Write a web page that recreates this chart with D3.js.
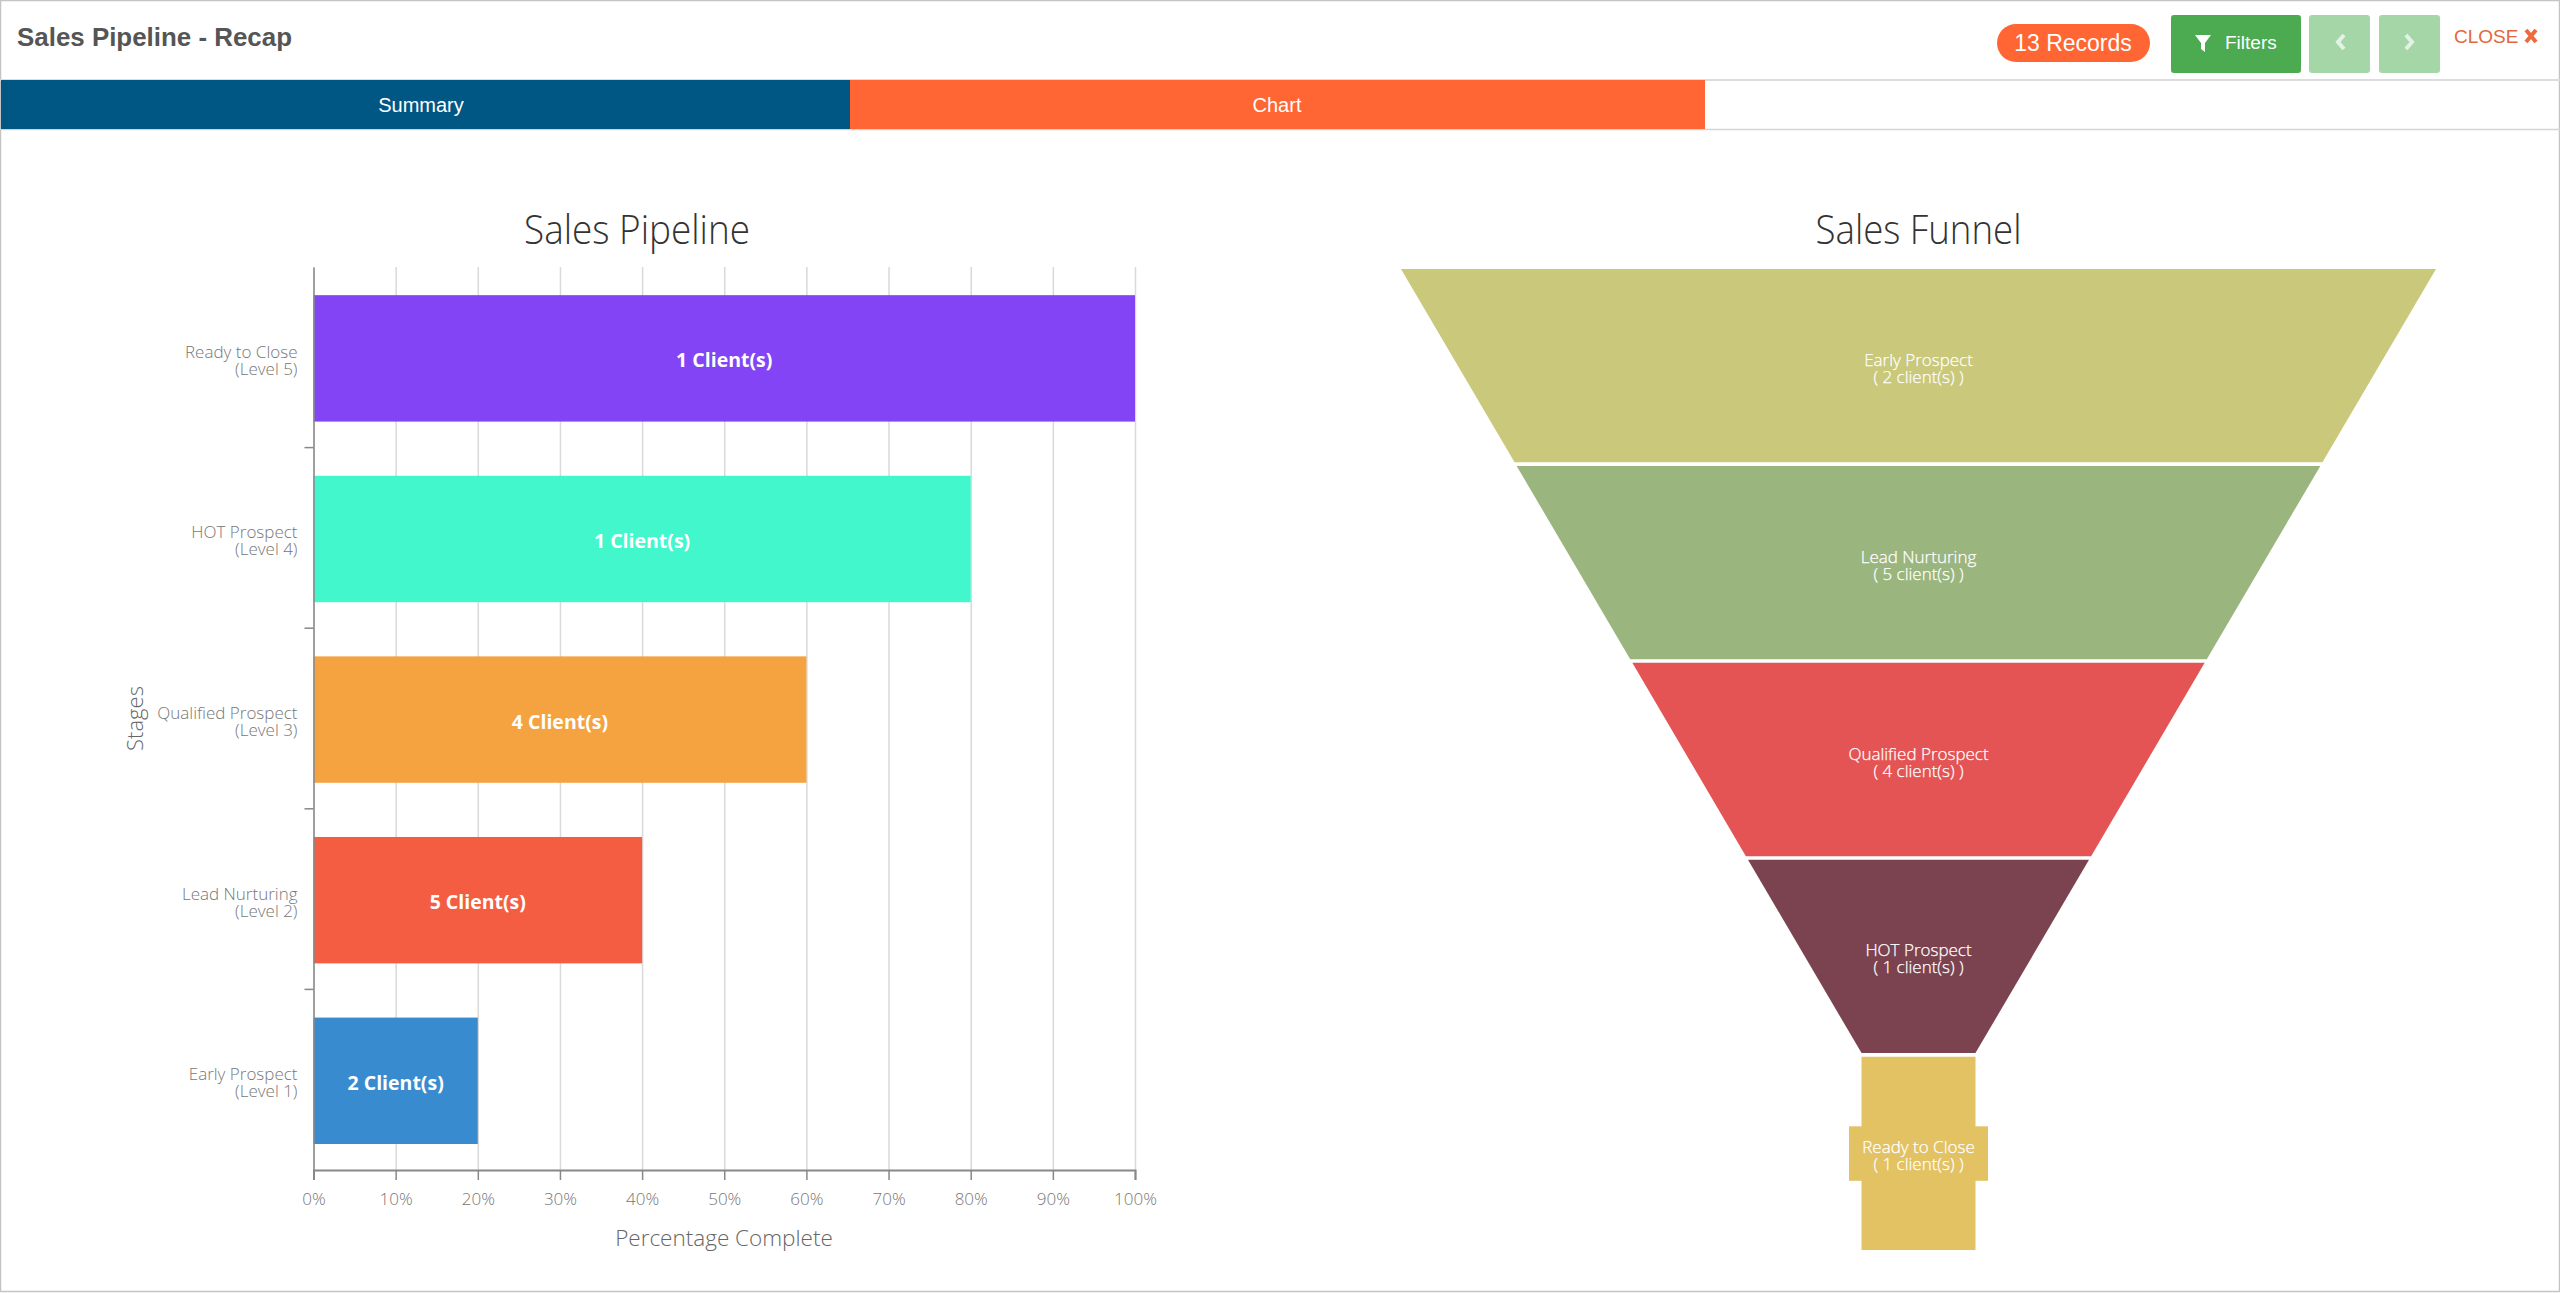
<!DOCTYPE html>
<html>
<head>
<meta charset="utf-8">
<title>Sales Pipeline - Recap</title>
<script src="https://cdn.jsdelivr.net/npm/d3@7"></script>
<style>
  html, body { margin: 0; padding: 0; background: #fff; }
  svg { display: block; }
  .ui { font-family: "Liberation Sans", Arial, sans-serif; }
  .chart-text { font-family: "Open Sans", "Noto Sans", sans-serif; }
  .grid line { stroke: #d9d9d9; stroke-width: 1.5; }
  .grid path { display: none; }
</style>
</head>
<body>
<div id="page"></div>
<script>
// chart data
var stages = ["Early Prospect", "Lead Nurturing", "Qualified Prospect", "HOT Prospect", "Ready to Close"];
var levels = ["(Level 1)", "(Level 2)", "(Level 3)", "(Level 4)", "(Level 5)"];
var percents = [20, 40, 60, 80, 100];
var pipelineClients = [2, 5, 4, 1, 1];
var funnelClients = [2, 5, 4, 1, 1];
var barColors = ["#398bcf", "#f55d43", "#f4a340", "#43f7cd", "#8344f5"];
var funnelColors = ["#c9c87b", "#9bb57f", "#e45454", "#7b4350", "#e3c263"];
var xTicks = [0, 10, 20, 30, 40, 50, 60, 70, 80, 90, 100];

var W = 2560, H = 1293;

var svg = d3.select("#page").append("svg")
    .attr("width", W)
    .attr("height", H)
    .attr("viewBox", "0 0 " + W + " " + H);

// page frame
svg.append("rect")
    .attr("x", 0.5).attr("y", 0.5)
    .attr("width", W - 1).attr("height", H - 2)
    .attr("fill", "#fff").attr("stroke", "#c4c4c4").attr("stroke-width", 1.5);

// ---- header bar
var header = svg.append("g").attr("class", "ui");

header.append("text")
    .attr("x", 17).attr("y", 46)
    .attr("font-size", 26).attr("font-weight", 700).attr("fill", "#555")
    .attr("textLength", 275).attr("lengthAdjust", "spacingAndGlyphs")
    .text("Sales Pipeline - Recap");

header.append("rect").attr("x", 1997).attr("y", 24).attr("width", 153).attr("height", 38)
    .attr("rx", 19).attr("fill", "#ff6633");
header.append("text").attr("x", 2073).attr("y", 51).attr("text-anchor", "middle")
    .attr("font-size", 23).attr("fill", "#fff").text("13 Records");

header.append("rect").attr("x", 2171).attr("y", 15).attr("width", 130).attr("height", 58)
    .attr("rx", 3).attr("fill", "#4caa50");
header.append("path")
    .attr("d", "M2195,35 h16 l-6,8 v9 l-4,-3 v-6 z")
    .attr("fill", "#fff");
header.append("text").attr("x", 2225).attr("y", 49)
    .attr("font-size", 19).attr("fill", "#fff").text("Filters");

header.append("rect").attr("x", 2309).attr("y", 15).attr("width", 61).attr("height", 58)
    .attr("rx", 3).attr("fill", "#a5d6a7");
header.append("rect").attr("x", 2379).attr("y", 15).attr("width", 61).attr("height", 58)
    .attr("rx", 3).attr("fill", "#a5d6a7");
header.append("path").attr("d", "M2344,35 l-6,7 l6,7")
    .attr("fill", "none").attr("stroke", "#e3f2e4").attr("stroke-width", 4);
header.append("path").attr("d", "M2406,35 l6,7 l-6,7")
    .attr("fill", "none").attr("stroke", "#e3f2e4").attr("stroke-width", 4);

header.append("text").attr("x", 2454).attr("y", 43)
    .attr("font-size", 19).attr("fill", "#e2683f").text("CLOSE");
header.append("path").attr("d", "M2526,30 l10,12 M2536,30 l-10,12")
    .attr("fill", "none").attr("stroke", "#ee6a3c").attr("stroke-width", 4);

// ---- tabs
var tabs = [
  {label: "Summary", x0: 1, x1: 850, textX: 421, color: "#005784"},
  {label: "Chart", x0: 850, x1: 1705, textX: 1277, color: "#ff6633"}
];
svg.append("line").attr("x1", 0).attr("x2", W).attr("y1", 80).attr("y2", 80)
    .attr("stroke", "#dcdcdc").attr("stroke-width", 2);
svg.append("line").attr("x1", 0).attr("x2", W).attr("y1", 129.5).attr("y2", 129.5)
    .attr("stroke", "#d4d4d4").attr("stroke-width", 1.5);
var tab = svg.selectAll(".tab").data(tabs).enter().append("g").attr("class", "tab ui");
tab.append("rect")
    .attr("x", function(d) { return d.x0; })
    .attr("y", 80)
    .attr("width", function(d) { return d.x1 - d.x0; })
    .attr("height", 49)
    .attr("fill", function(d) { return d.color; });
tab.append("text")
    .attr("x", function(d) { return d.textX; })
    .attr("y", 112)
    .attr("text-anchor", "middle")
    .attr("font-size", 20)
    .attr("fill", "#fff")
    .text(function(d) { return d.label; });

// ---- sales pipeline bars
var margin = {top: 267, left: 313.5, right: 1135, bottom: 1170};

var x = d3.scaleLinear().domain([0, 100]).range([margin.left, margin.right]);
var y = d3.scaleBand()
    .domain(stages.slice().reverse())
    .range([margin.top, margin.bottom])
    .paddingInner(0.3)
    .paddingOuter(0.15)
    .align(0.52);

var pipeline = svg.append("g").attr("class", "chart-text");

pipeline.append("text")
    .attr("x", 637).attr("y", 244)
    .attr("text-anchor", "middle")
    .attr("font-size", 40).attr("font-weight", 300).attr("fill", "#333")
    .attr("textLength", 226).attr("lengthAdjust", "spacingAndGlyphs")
    .text("Sales Pipeline");

// gridlines behind the bars
pipeline.append("g")
    .attr("class", "grid")
    .attr("transform", "translate(0," + margin.top + ")")
    .call(d3.axisBottom(x).tickValues(xTicks).tickSize(margin.bottom - margin.top).tickFormat(""));

pipeline.selectAll(".bar")
    .data(stages)
  .enter().append("rect")
    .attr("class", "bar")
    .attr("x", x(0))
    .attr("y", function(d) { return y(d); })
    .attr("width", function(d, i) { return x(percents[i]) - x(0); })
    .attr("height", y.bandwidth())
    .attr("fill", function(d, i) { return barColors[i]; });

pipeline.selectAll(".bar-label")
    .data(stages)
  .enter().append("text")
    .attr("class", "bar-label")
    .attr("x", function(d, i) { return x(percents[i] / 2); })
    .attr("y", function(d) { return y(d) + y.bandwidth() / 2 + 9; })
    .attr("text-anchor", "middle")
    .attr("font-size", 19.5).attr("font-weight", 700).attr("fill", "#fff")
    .text(function(d, i) { return pipelineClients[i] + " Client(s)"; });

// x axis
var xAxis = pipeline.append("g")
    .attr("transform", "translate(0," + margin.bottom + ")")
    .call(d3.axisBottom(x).tickValues(xTicks).tickSize(10).tickPadding(13)
        .tickFormat(function(d) { return d + "%"; }))
    .attr("font-family", null).attr("font-size", null);
xAxis.select(".domain").attr("stroke", "#888").attr("stroke-width", 2);
xAxis.selectAll("line").attr("stroke", "#888").attr("stroke-width", 1.5);
xAxis.selectAll("text").attr("font-size", 17)
    .attr("font-weight", 300).attr("fill", "#777");

// y axis, ticks sit on the band edges so the library labels are rebuilt in two lines
var yAxis = pipeline.append("g")
    .attr("transform", "translate(" + margin.left + ",0)")
    .call(d3.axisLeft(y).tickSize(0).tickPadding(16))
    .attr("font-family", null).attr("font-size", null);
yAxis.select(".domain").attr("stroke", "#888").attr("stroke-width", 1.5);
yAxis.selectAll("text").each(function(d) {
  var t = d3.select(this).text(null)
      .attr("font-size", 17).attr("font-weight", 300).attr("fill", "#777")
      .attr("dy", null).attr("y", 0);
  t.append("tspan").attr("x", -16).attr("dy", -0.5).text(d);
  t.append("tspan").attr("x", -16).attr("dy", 17).text(levels[stages.indexOf(d)]);
});
yAxis.selectAll(".edge-tick")
    .data(y.domain().slice(1))
  .enter().append("line")
    .attr("class", "edge-tick")
    .attr("x1", -9).attr("x2", 0)
    .attr("y1", function(d, i) { return margin.top + y.step() * (i + 1); })
    .attr("y2", function(d, i) { return margin.top + y.step() * (i + 1); })
    .attr("stroke", "#888").attr("stroke-width", 1.5);

pipeline.append("text")
    .attr("transform", "translate(143," + (margin.top + margin.bottom) / 2 + ") rotate(-90)")
    .attr("text-anchor", "middle")
    .attr("font-size", 22).attr("font-weight", 300).attr("fill", "#666")
    .text("Stages");

pipeline.append("text")
    .attr("x", 724).attr("y", 1246)
    .attr("text-anchor", "middle")
    .attr("font-size", 22.5).attr("font-weight", 300).attr("fill", "#666")
    .text("Percentage Complete");

// ---- sales funnel, equal height segments narrowing step by step
var funnelCx = 1918.5;
var fy = d3.scaleBand()
    .domain(stages)
    .range([269, 1250])
    .paddingInner(0.018)
    .paddingOuter(0);
var halfWidth = d3.scaleLinear().domain([269, 1053]).range([517.5, 57]);
var outline = d3.line();

var funnel = svg.append("g").attr("class", "chart-text");

funnel.append("text")
    .attr("x", funnelCx).attr("y", 244)
    .attr("text-anchor", "middle")
    .attr("font-size", 40).attr("font-weight", 300).attr("fill", "#333")
    .attr("textLength", 206).attr("lengthAdjust", "spacingAndGlyphs")
    .text("Sales Funnel");

funnel.selectAll(".segment")
    .data(stages)
  .enter().append("path")
    .attr("class", "segment")
    .attr("fill", function(d, i) { return funnelColors[i]; })
    .attr("d", function(d, i) {
      var top = fy(d), bottom = top + fy.bandwidth();
      var ht = halfWidth(top);
      var hb = halfWidth(bottom);
      if (i === stages.length - 1) { ht = hb = halfWidth.range()[1]; }
      return outline([[funnelCx - ht, top], [funnelCx + ht, top], [funnelCx + hb, bottom], [funnelCx - hb, bottom]]) + "Z";
    });

// the last label is wider than its segment, so it gets a colored backing
var lastStage = stages[stages.length - 1];
funnel.append("rect")
    .attr("x", funnelCx - 69.5)
    .attr("y", fy(lastStage) + fy.bandwidth() / 2 - 27)
    .attr("width", 139).attr("height", 54.5)
    .attr("fill", funnelColors[stages.length - 1]);

var fLabel = funnel.selectAll(".segment-label")
    .data(stages)
  .enter().append("text")
    .attr("class", "segment-label")
    .attr("text-anchor", "middle")
    .attr("font-size", 17).attr("font-weight", 300).attr("fill", "#fff")
    .attr("stroke", "#fff").attr("stroke-width", 0.25)
    .attr("y", function(d) { return fy(d) + fy.bandwidth() / 2; });
fLabel.append("tspan").attr("x", funnelCx).attr("dy", 0).text(function(d) { return d; });
fLabel.append("tspan").attr("x", funnelCx).attr("dy", 17)
    .text(function(d, i) { return "( " + funnelClients[i] + " client(s) )"; });
</script>
</body>
</html>
